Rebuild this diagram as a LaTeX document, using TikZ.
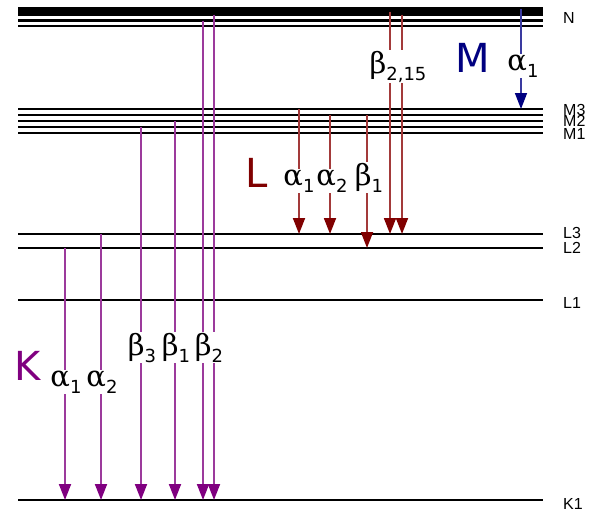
\documentclass[tikz,border=0pt]{standalone}
\usepackage{fontspec}
\newfontfamily\lvlfont{Liberation Sans}
\newfontfamily\subfont{DejaVu Sans}
\newfontfamily\grkfont{DejaVu Serif}
\usetikzlibrary{arrows.meta}
\definecolor{Kdark}{HTML}{800080}
\definecolor{Kline}{HTML}{9C3A9C}
\definecolor{Ldark}{HTML}{800000}
\definecolor{Lline}{HTML}{A33A3A}
\definecolor{Mdark}{HTML}{000080}
\definecolor{Mline}{HTML}{3A3AA0}
\newcommand\xlab[2]{{\grkfont\fontsize{29}{29}\selectfont #1}\raisebox{-7pt}{\subfont\fontsize{18}{18}\selectfont #2}}
\begin{document}
\begin{tikzpicture}[x=1pt,y=-1pt,
  level/.style={line width=2.7pt,black},
  karrow/.style={line width=1.8pt,Kline,-{Triangle[length=16pt,width=12pt,color=Kdark]}},
  larrow/.style={line width=1.8pt,Lline,-{Triangle[length=16pt,width=12pt,color=Ldark]}},
  marrow/.style={line width=1.5pt,Mline,-{Triangle[length=16pt,width=12pt,color=Mdark]}},
  glabel/.style={fill=white,inner xsep=0pt,inner ysep=1pt,anchor=base},
  series/.style={anchor=base,font=\subfont\fontsize{40}{40}\selectfont},
  lvllabel/.style={anchor=west,inner sep=0pt,font=\lvlfont\fontsize{16}{16}\selectfont}
]
\useasboundingbox (0,0) rectangle (589,515);
% energy levels
\foreach \y in {8.5,11.5,14.5,20.5,26,109,115,121,127,133,234,248,300,500}
  \draw[level] (18,\y) -- (543,\y);
% level labels
\node[lvllabel] (nN) at (563,18) {N};
\node[lvllabel] (nM3) at (563,110) {M3};
\node[lvllabel] (nM2) at (563,121) {M2};
\node[lvllabel] (nM1) at (563,134) {M1};
\node[lvllabel] (nL3) at (563,233) {L3};
\node[lvllabel] (nL2) at (563,248) {L2};
\node[lvllabel] (nL1) at (563,303) {L1};
\node[lvllabel] (nK1) at (563,504) {K1};
% coordinates for transitions
\coordinate (kA1s) at (65,248);  \coordinate (kA1e) at (65,500);
\coordinate (kA2s) at (101,234); \coordinate (kA2e) at (101,500);
\coordinate (kB3s) at (141,127); \coordinate (kB3e) at (141,500);
\coordinate (kB1s) at (175,121); \coordinate (kB1e) at (175,500);
\coordinate (kB2as) at (203,20.5); \coordinate (kB2ae) at (203,500);
\coordinate (kB2bs) at (214,14.5); \coordinate (kB2be) at (214,500);
\coordinate (lA1s) at (299,109); \coordinate (lA1e) at (299,234);
\coordinate (lA2s) at (330,115); \coordinate (lA2e) at (330,234);
\coordinate (lB1s) at (367,115); \coordinate (lB1e) at (367,248);
\coordinate (lB2as) at (390,11.5); \coordinate (lB2ae) at (390,234);
\coordinate (lB2bs) at (402,14.5); \coordinate (lB2be) at (402,234);
\coordinate (mA1s) at (521,8.5); \coordinate (mA1e) at (521,109);
% K series
\draw[karrow] (kA1s) -- (kA1e);
\draw[karrow] (kA2s) -- (kA2e);
\draw[karrow] (kB3s) -- (kB3e);
\draw[karrow] (kB1s) -- (kB1e);
\draw[karrow] (kB2as) -- (kB2ae);
\draw[karrow] (kB2bs) -- (kB2be);
% L series
\draw[larrow] (lA1s) -- (lA1e);
\draw[larrow] (lA2s) -- (lA2e);
\draw[larrow] (lB1s) -- (lB1e);
\draw[larrow] (lB2as) -- (lB2ae);
\draw[larrow] (lB2bs) -- (lB2be);
% M series
\draw[marrow] (mA1s) -- (mA1e);
% labels
\node[series,text=Kdark] (K) at (28,380) {K};
\node[glabel] (tKA1) at (66,386) {\xlab{α}{1}};
\node[glabel] (tKA2) at (102,386) {\xlab{α}{2}};
\node[glabel] (tKB3) at (142,355) {\xlab{β}{3}};
\node[glabel] (tKB1) at (176,355) {\xlab{β}{1}};
\node[glabel] (tKB2) at (209,355) {\xlab{β}{2}};
\node[series,text=Ldark] (L) at (257,187) {L};
\node[glabel] (tLA1) at (299,185) {\xlab{α}{1}};
\node[glabel] (tLA2) at (332,185) {\xlab{α}{2}};
\node[glabel] (tLB1) at (369,185) {\xlab{β}{1}};
\node[glabel] (tLB2) at (398,73) {\xlab{β}{2,15}};
\node[series,text=Mdark] (M) at (473,72) {M};
\node[glabel] (tMA1) at (523,70) {\xlab{α}{1}};
\end{tikzpicture}
\end{document}
